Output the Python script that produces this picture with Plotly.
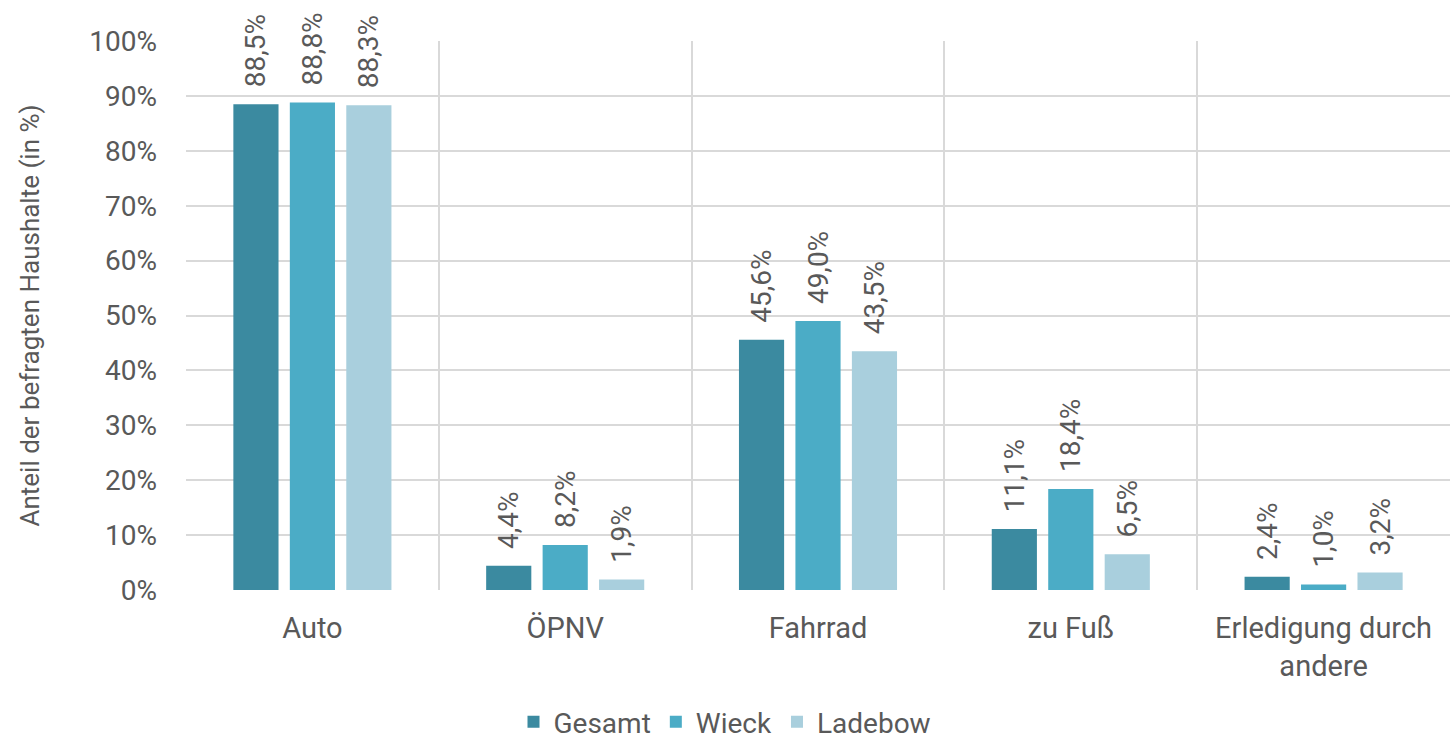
import plotly.graph_objects as go

categories = ["Auto", "ÖPNV", "Fahrrad", "zu Fuß", "Erledigung durch<br>andere"]
series_names = ["Gesamt", "Wieck", "Ladebow"]
gesamt = [88.5, 4.4, 45.6, 11.1, 2.4]
wieck = [88.8, 8.2, 49.0, 18.4, 1.0]
ladebow = [88.3, 1.9, 43.5, 6.5, 3.2]
colors = ["#3B8AA0", "#4BACC6", "#A9CFDD"]
ytick_vals = list(range(0, 101, 10))
ytick_text = [f"{v}%" for v in ytick_vals]

FONT = "Roboto"
GREY = "#595959"

x_idx = list(range(len(categories)))
fig = go.Figure()
for name, vals, col in zip(series_names, [gesamt, wieck, ladebow], colors):
    fig.add_trace(go.Bar(
        x=x_idx, y=vals, name=name, marker=dict(color=col, line=dict(width=0)),
        text=["\u00a0\u00a0" + f"{v:.1f}%".replace(".", ",") for v in vals],
        textposition="outside", textangle=-90, cliponaxis=False, constraintext="none",
        textfont=dict(family=FONT, size=28, color=GREY),
    ))

# invisible trace on overlay axis to create category boundary grid lines
fig.add_trace(go.Scatter(x=[-0.5, len(categories) - 0.5], y=[0, 0], xaxis="x2",
                         mode="markers", marker=dict(opacity=0), showlegend=False,
                         hoverinfo="skip"))

fig.update_layout(
    width=1450, height=739,
    margin=dict(l=186, r=0, t=41, b=149),
    paper_bgcolor="white", plot_bgcolor="white",
    barmode="group", bargap=0.33, bargroupgap=0.2,
    font=dict(family=FONT, color=GREY, size=28),
    xaxis=dict(tickmode="array", tickvals=x_idx, ticktext=categories,
               range=[-0.5, len(categories) - 0.5], showgrid=False, zeroline=False,
               showline=False, ticks="", ticklabelstandoff=18,
               tickfont=dict(size=29, color=GREY)),
    xaxis2=dict(overlaying="x", range=[-0.5, len(categories) - 0.5],
                tickmode="linear", tick0=-0.5, dtick=1, showgrid=True,
                gridcolor="#D9D9D9", gridwidth=2, showticklabels=False,
                zeroline=False, showline=False, ticks=""),
    yaxis=dict(range=[0, 100], tickmode="array", tickvals=ytick_vals, ticktext=ytick_text,
               showgrid=True, gridcolor="#D9D9D9", gridwidth=2, zeroline=False,
               ticks="", ticklabelstandoff=28, tickfont=dict(size=28, color=GREY),
               title=dict(text="Anteil der befragten Haushalte (in %)", standoff=42,
                          font=dict(size=26, color=GREY))),
    legend=dict(orientation="h", xref="container", x=0.5, xanchor="center",
                yref="container", y=0.023, yanchor="middle",
                font=dict(size=28, color=GREY), itemwidth=30, traceorder="normal"),
)
fig.write_html("out.html", post_script="document.body.style.margin='0';",
               config={"displayModeBar": False})
